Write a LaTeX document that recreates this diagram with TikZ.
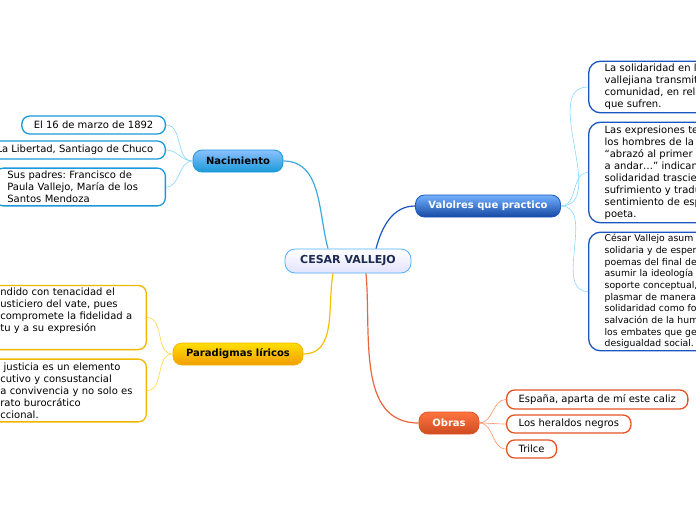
\documentclass[tikz,border=0pt]{standalone}
\usepackage{fontspec}
\setmainfont{DejaVu Sans}
\frenchspacing
\definecolor{nacblue}{HTML}{1A9AD8}
\definecolor{valblue}{HTML}{1A55C0}
\definecolor{paryellow}{HTML}{F2B500}
\definecolor{obrred}{HTML}{E45426}
\definecolor{navy}{HTML}{1C2B4F}
\begin{document}
\begin{tikzpicture}[x=1pt,y=-1pt,
	every node/.style={font=\fontsize{10}{12}\selectfont},
	leaf/.style={draw,fill=white,line width=1.3pt,rounded corners=8pt,
		inner xsep=12pt,inner ysep=3pt,align=left,minimum height=18pt},
	branch/.style={draw,line width=0.8pt,rounded corners=9pt,minimum height=22pt,
		font=\bfseries\fontsize{10}{12}\selectfont},
	thin line/.style={line width=0.6pt},
	main line/.style={line width=1.2pt}]
	\useasboundingbox (0,0) rectangle (696,520);
	\clip (0,0) rectangle (696,520);
	
	% centre and branches
	\node[branch,rounded corners=10pt,minimum width=126pt,minimum height=24pt,
		draw=blue!45!cyan!70,top color=white,bottom color=gray!15!blue!12,text=navy,
		font=\bfseries\fontsize{11}{13}\selectfont] (cesar) at (348,261) {CESAR VALLEJO};
	\node[branch,minimum width=90pt,draw=nacblue,top color=cyan!45!blue!45,
		bottom color=nacblue] (nacimiento) at (238,161) {Nacimiento};
	\node[branch,minimum width=145pt,draw=valblue,top color=blue!55!cyan!55,
		bottom color=valblue!85!black,text=white] (valores) at (488,206) {Valolres que practico};
	\node[branch,minimum width=130pt,draw=paryellow,top color=yellow!75!orange,
		bottom color=orange!70!yellow!95!black] (paradigmas) at (238,354) {Paradigmas líricos};
	\node[branch,minimum width=60pt,draw=obrred,top color=orange!55!red!75,
		bottom color=obrred!90!black,text=white] (obras) at (449,423) {Obras};
	
	% Nacimiento
	\node[leaf,draw=nacblue,anchor=east] (fecha) at (166,125) {El 16 de marzo de 1892};
	\node[leaf,draw=nacblue,anchor=east] (lugar) at (166,150) {La Libertad, Santiago de Chuco};
	\node[leaf,draw=nacblue,anchor=east,text width=146pt] (padres) at (166,187)
		{Sus padres: Francisco de\\Paula Vallejo, María de los\\Santos Mendoza};
	
	% Valolres que practico
	\node[leaf,draw=valblue,anchor=west,inner xsep=16pt,rounded corners=12pt,
		text width=170pt] (solidaridad) at (588,87)
		{La solidaridad en l\\vallejiana transmit\\comunidad, en rela\\que sufren.};
	\node[leaf,draw=valblue,anchor=west,inner xsep=16pt,inner ysep=3.5pt,
		rounded corners=12pt,text width=170pt] (expresiones) at (588,172.5)
		{Las expresiones te\\los hombres de la\\“abrazó al primer h\\a andar…” indican\\solidaridad trascie\\sufrimiento y tradu\\sentimiento de esp\\poeta.};
	\node[leaf,draw=valblue,anchor=west,inner xsep=16pt,inner ysep=2pt,
		rounded corners=12pt,text width=170pt,font=\fontsize{9.3}{11.7}\selectfont]
		(postura) at (588,291.5)
		{César Vallejo asum\\solidaria y de esper\\poemas del final de\\asumir la ideología\\soporte conceptual,\\plasmar de manera\\solidaridad como fo\\salvación de la hum\\los embates que ge\\desigualdad social.};
	
	% Paradigmas liricos
	\node[leaf,draw=paryellow,anchor=east,inner ysep=2.5pt,text width=134pt]
		(tenacidad) at (147,317.5)
		{ndido con tenacidad el\\usticiero del vate, pues\\compromete la fidelidad a\\tu y a su expresión\\\strut};
	\node[leaf,draw=paryellow,anchor=east,inner ysep=3.5pt,text width=134pt]
		(justicia) at (147,390.5)
		{\ justicia es un elemento\\cutivo y consustancial\\a convivencia y no solo es\\rato burocrático\\ccional.};
	
	% Obras
	\node[leaf,draw=obrred,anchor=west,minimum height=19pt] (espana) at (506,399.5)
		{España, aparta de mí este caliz};
	\node[leaf,draw=obrred,anchor=west] (heraldos) at (506,424) {Los heraldos negros};
	\node[leaf,draw=obrred,anchor=west] (trilce) at (506,449) {Trilce};
	
	% connectors
	\draw[main line,nacblue!85!white] (nacimiento.east) to[out=0,in=105] ([xshift=-20pt]cesar.north);
	\draw[main line,valblue] ([xshift=28pt]cesar.north) to[out=75,in=180] (valores.west);
	\draw[main line,paryellow!85!yellow] ([xshift=-15pt]cesar.south) to[out=-100,in=0] (paradigmas.east);
	\draw[main line,obrred!90!white] ([xshift=18pt]cesar.south) to[out=-85,in=180] (obras.west);
	
	\foreach \leaf in {fecha,lugar,padres}{%
		\draw[thin line,cyan!50] (nacimiento.west) to[out=180,in=0] (\leaf.east);
	}
	\foreach \leaf in {solidaridad,expresiones,postura}{%
		\draw[thin line,blue!35!cyan!45] (valores.east) to[out=0,in=180] (\leaf.west);
	}
	\foreach \leaf in {tenacidad,justicia}{%
		\draw[thin line,orange!40!yellow!75] (paradigmas.west) to[out=180,in=0] (\leaf.east);
	}
	\foreach \leaf in {espana,heraldos,trilce}{%
		\draw[thin line,orange!55!red!60] (obras.east) to[out=0,in=180] (\leaf.west);
	}
\end{tikzpicture}
\end{document}
